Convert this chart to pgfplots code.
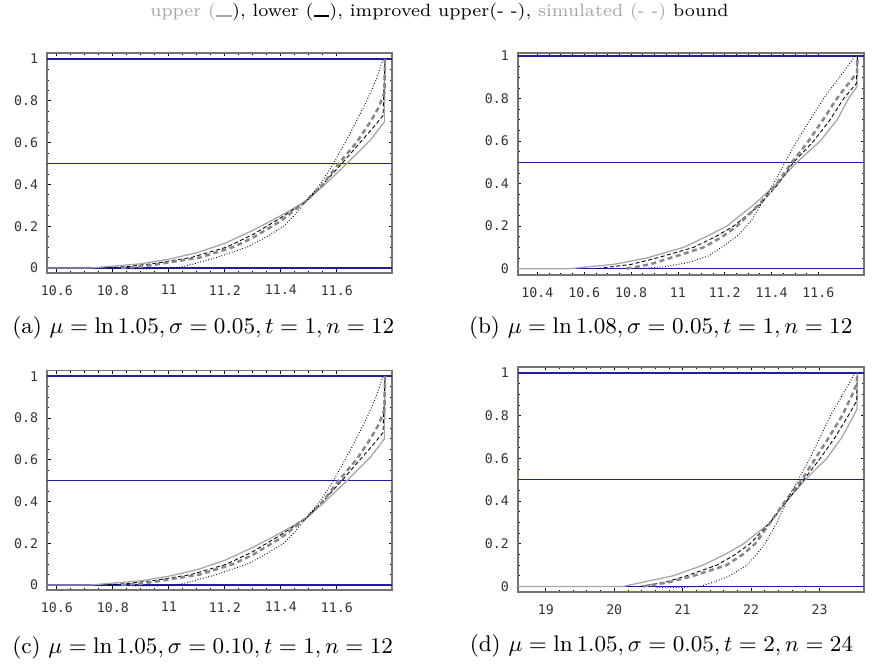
\documentclass[border=0pt]{standalone}
\usepackage{fontspec}
\setmonofont{DejaVu Sans Mono}
\usepackage{pgfplots}
\pgfplotsset{compat=1.18}
\usepackage{pgfplotstable}

\definecolor{hblue}{RGB}{30,30,165}
\definecolor{ugray}{RGB}{165,165,165}
\definecolor{sgray}{RGB}{135,135,135}

% panel (a) and (c)
\pgfplotstableread{
x y
10.565 0
10.72 0
10.81 0.010
10.90 0.020
11.00 0.042
11.10 0.073
11.20 0.118
11.30 0.180
11.40 0.250
11.49 0.320
11.558 0.400
11.636 0.500
11.72 0.612
11.77 0.700
11.772 1.0
}\upA
\pgfplotstableread{
x y
10.78 0
10.86 0.008
10.94 0.020
11.08 0.050
11.207 0.100
11.30 0.160
11.40 0.240
11.49 0.320
11.55 0.400
11.618 0.500
11.683 0.600
11.735 0.680
11.765 0.730
11.772 1.0
}\impA
\pgfplotstableread{
x y
10.83 0
10.90 0.006
10.97 0.020
11.11 0.050
11.23 0.100
11.30 0.145
11.40 0.225
11.49 0.320
11.55 0.400
11.607 0.500
11.67 0.600
11.72 0.700
11.75 0.770
11.77 0.840
11.772 1.0
}\simA
\pgfplotstableread{
x y
10.86 -0.004
10.93 -0.004
11.03 0
11.09 0.020
11.17 0.050
11.28 0.100
11.35 0.150
11.41 0.200
11.45 0.255
11.49 0.320
11.54 0.400
11.588 0.500
11.65 0.650
11.707 0.800
11.74 0.900
11.765 1.0
}\lowA

% panel (b)
\pgfplotstableread{
x y
10.316 0
10.54 0
10.725 0.020
10.867 0.050
11.024 0.100
11.12 0.150
11.209 0.200
11.323 0.300
11.423 0.400
11.508 0.500
11.608 0.600
11.68 0.700
11.729 0.800
11.765 0.856
11.767 1.0
}\upB
\pgfplotstableread{
x y
10.654 0
10.80 0.020
10.91 0.050
11.067 0.100
11.16 0.150
11.238 0.200
11.35 0.300
11.43 0.400
11.494 0.500
11.58 0.600
11.65 0.700
11.708 0.800
11.762 0.870
11.767 1.0
}\impB
\pgfplotstableread{
x y
10.78 0
10.88 0.020
10.967 0.050
11.109 0.100
11.19 0.150
11.252 0.200
11.345 0.300
11.423 0.400
11.487 0.500
11.558 0.600
11.62 0.700
11.679 0.800
11.735 0.880
11.765 0.920
11.767 1.0
}\simB
\pgfplotstableread{
x y
10.84 0
10.95 0.010
11.05 0.030
11.13 0.060
11.20 0.110
11.26 0.160
11.31 0.220
11.36 0.310
11.409 0.400
11.458 0.500
11.508 0.600
11.565 0.700
11.622 0.800
11.69 0.900
11.757 1.0
}\lowB

% panel (d)
\pgfplotstableread{
x y
18.59 0
20.13 0
20.42 0.020
20.86 0.050
21.30 0.100
21.62 0.150
21.89 0.200
22.28 0.300
22.52 0.400
22.79 0.500
23.107 0.600
23.33 0.700
23.50 0.800
23.546 0.830
23.55 1.0
}\upD
\pgfplotstableread{
x y
20.38 0
20.75 0.020
21.06 0.050
21.50 0.100
21.77 0.150
21.985 0.200
22.28 0.300
22.52 0.400
22.77 0.500
23.01 0.600
23.23 0.700
23.42 0.800
23.545 0.870
23.55 1.0
}\impD
\pgfplotstableread{
x y
20.42 0
20.80 0.020
21.16 0.050
21.64 0.100
21.88 0.150
22.06 0.200
22.28 0.300
22.50 0.400
22.74 0.500
22.94 0.600
23.14 0.700
23.33 0.800
23.48 0.900
23.545 0.950
23.55 1.0
}\simD
\pgfplotstableread{
x y
20.62 -0.005
20.95 -0.005
21.25 0
21.45 0.020
21.69 0.050
21.94 0.100
22.08 0.150
22.20 0.200
22.38 0.300
22.52 0.400
22.69 0.500
22.86 0.600
23.01 0.700
23.16 0.800
23.34 0.900
23.52 1.0
}\lowD

\pgfplotsset{
  mma/.style={
    scale only axis, anchor=south west,
    axis line style={color=black!55, line width=0.6pt},
    tick style={black, line width=0.3pt},
    major tick length=1.4pt, minor tick length=0.8pt,
    tick align=inside,
    minor y tick num=3,
    ytick={0,0.2,0.4,0.6,0.8,1},
    ticklabel style={font=\fontsize{5.3}{6}\selectfont\ttfamily, color=black!80},
    xticklabel style={yshift=-1.4pt},
    /pgf/number format/assume math mode=true,
  },
  upperb/.style={color=ugray, line width=0.5pt},
  impb/.style={black, line width=0.35pt, dash pattern=on 1.6pt off 1pt},
  simb/.style={color=sgray, line width=1.0pt, dash pattern=on 2pt off 1.4pt},
  lowb/.style={black, line width=0.4pt, dash pattern=on 0.3pt off 0.8pt},
  hline/.style={color=hblue, line width=0.55pt},
}

\begin{document}
\begin{tikzpicture}
\useasboundingbox (0pt,0pt) rectangle (350.8pt,-266.8pt);

\node[anchor=base, font=\fontsize{7.1}{8}\selectfont] at (175.8pt,-6.8pt)
  {\textcolor{ugray}{upper (\rule{0.9em}{0.1em}}), lower (\rule{0.9em}{0.12em}), improved upper(- -), \textcolor{ugray}{simulated (- -)} bound};

% (a)
\begin{axis}[mma, at={(18.8pt,-109.2pt)}, width=138pt, height=88pt,
  xmin=10.565, xmax=11.797, ymin=-0.024, ymax=1.029,
  xtick={10.6,10.8,11,11.2,11.4,11.6}, minor x tick num=3]
\addplot[hline] coordinates {(10.565,0) (11.797,0)};
\addplot[hline] coordinates {(10.565,0.5) (11.797,0.5)};
\addplot[hline] coordinates {(10.565,1) (11.797,1)};
\addplot[upperb] table {\upA};
\addplot[impb] table {\impA};
\addplot[simb] table {\simA};
\addplot[lowb] table {\lowA};
\end{axis}

% (b)
\begin{axis}[mma, at={(207.1pt,-110.1pt)}, width=138.5pt, height=88.8pt,
  xmin=10.316, xmax=11.795, ymin=-0.031, ymax=1.013,
  xtick={10.4,10.6,10.8,11,11.2,11.4,11.6}, minor x tick num=3]
\addplot[hline] coordinates {(10.316,0) (11.795,0)};
\addplot[hline] coordinates {(10.316,0.5) (11.795,0.5)};
\addplot[hline] coordinates {(10.316,1) (11.795,1)};
\addplot[upperb] table {\upB};
\addplot[impb] table {\impB};
\addplot[simb] table {\simB};
\addplot[lowb] table {\lowB};
\end{axis}

% (c)
\begin{axis}[mma, at={(18.8pt,-236pt)}, width=138pt, height=87.7pt,
  xmin=10.565, xmax=11.797, ymin=-0.024, ymax=1.026,
  xtick={10.6,10.8,11,11.2,11.4,11.6}, minor x tick num=3]
\addplot[hline] coordinates {(10.565,0) (11.797,0)};
\addplot[hline] coordinates {(10.565,0.5) (11.797,0.5)};
\addplot[hline] coordinates {(10.565,1) (11.797,1)};
\addplot[upperb] table {\upA};
\addplot[impb] table {\impA};
\addplot[simb] table {\simA};
\addplot[lowb] table {\lowA};
\end{axis}

% (d)
\begin{axis}[mma, at={(207.1pt,-236.8pt)}, width=138.5pt, height=90pt,
  xmin=18.59, xmax=23.65, ymin=-0.026, ymax=1.028,
  xtick={19,20,21,22,23}, minor x tick num=4]
\addplot[hline] coordinates {(18.59,0) (23.65,0)};
\addplot[hline] coordinates {(18.59,0.5) (23.65,0.5)};
\addplot[hline] coordinates {(18.59,1) (23.65,1)};
\addplot[upperb] table {\upD};
\addplot[impb] table {\impD};
\addplot[simb] table {\simD};
\addplot[lowb] table {\lowD};
\end{axis}

\begin{scope}[every node/.style={anchor=base west, inner sep=0pt, font=\fontsize{9.05}{11}\selectfont}]
\node at (4.7pt,-133.6pt) {(a) $\mu=\ln 1.05, \sigma=0.05, t=1, n=12$};
\node at (187.4pt,-133.6pt) {(b) $\mu=\ln 1.08, \sigma=0.05, t=1, n=12$};
\node at (4.7pt,-261.2pt) {(c) $\mu=\ln 1.05, \sigma=0.10, t=1, n=12$};
\node at (187.7pt,-260.6pt) {(d) $\mu=\ln 1.05, \sigma=0.05, t=2, n=24$};
\end{scope}
\end{tikzpicture}
\end{document}
